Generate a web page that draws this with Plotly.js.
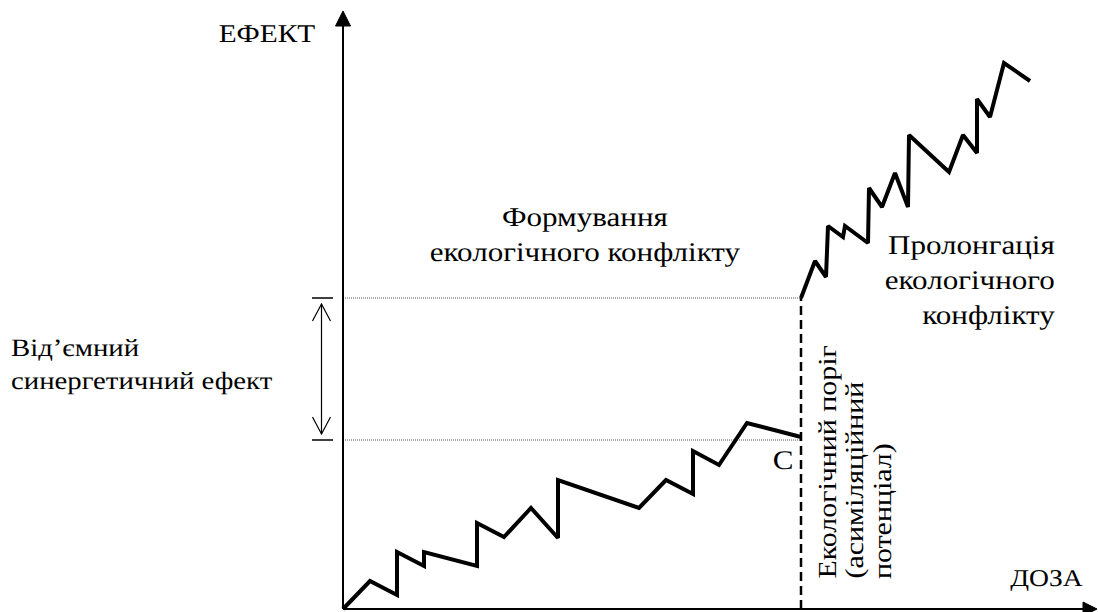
<!DOCTYPE html>
<html>
<head>
<meta charset="utf-8">
<script src="https://cdn.plot.ly/plotly-3.0.1.min.js"></script>
<style>html,body{margin:0;padding:0;background:#fff;}#chart{width:1098px;height:612px;}svg text{text-rendering:geometricPrecision;}</style>
</head>
<body>
<div id="chart"></div>
<script>
// Formation stage of the ecological conflict (dose, effect)
var formDose   = [0, 2.7, 5.4, 5.4, 8.1, 8.1, 13.4, 13.4, 16.1, 18.8, 21.5, 21.5, 29.6, 32.3, 35.0, 35.0, 37.6, 40.4, 45.8];
var formEffect = [0, 2.8, 1.4, 5.7, 4.3, 5.7, 4.3, 8.6, 7.2, 10.1, 7.1, 12.9, 10.1, 12.9, 11.5, 15.8, 14.4, 18.6, 17.2];
// Prolongation stage of the ecological conflict
var prolDose   = [45.8, 47.2, 48.3, 48.5, 50.0, 50.2, 52.5, 52.6, 53.9, 55.2, 56.5, 56.6, 60.6, 62.0, 63.4, 63.4, 64.7, 66.1, 68.7];
var prolEffect = [31.1, 34.8, 33.2, 38.3, 37.2, 38.3, 36.6, 42.1, 40.2, 43.6, 40.2, 47.4, 43.7, 47.4, 45.6, 51.0, 49.2, 54.6, 52.8];
// Ecological threshold and effect levels
var thresholdDose = 45.8;
var lowerLevel = 16.9;
var upperLevel = 31.1;
var axisMaxDose = 74.2;
var axisMaxEffect = 58.5;
// Labels
var thresholdLines = ['Екологічний поріг', '(асиміляційний', 'потенціал)'];

var serif = 'Liberation Serif';
var black = '#000';

var traces = [
  {x: [0, thresholdDose], y: [lowerLevel, lowerLevel], mode: 'lines', line: {color: '#555', width: 1, dash: '1px,1px'}, hoverinfo: 'skip'},
  {x: [0, thresholdDose], y: [upperLevel, upperLevel], mode: 'lines', line: {color: '#555', width: 1, dash: '1px,1px'}, hoverinfo: 'skip'},
  {x: [thresholdDose, thresholdDose], y: [0, upperLevel], mode: 'lines', line: {color: black, width: 2.5, dash: '9px,5px'}, hoverinfo: 'skip'},
  {x: formDose, y: formEffect, mode: 'lines', line: {color: black, width: 4}},
  {x: prolDose, y: prolEffect, mode: 'lines', line: {color: black, width: 4}}
];

var ax = -2.15; // double arrow position (left of the effect axis)
var shapes = [
  {type: 'line', x0: 0, y0: 0, x1: 0, y1: axisMaxEffect, line: {color: black, width: 2}},
  {type: 'line', x0: 0, y0: 0, x1: axisMaxDose, y1: 0, line: {color: black, width: 2}},
  {type: 'path', path: 'M 0 59.8 L -0.75 58.3 L 0.75 58.3 Z', fillcolor: black, line: {color: black, width: 1}},
  {type: 'path', path: 'M 75.4 0 L 74.0 0.7 L 74.0 -0.7 Z', fillcolor: black, line: {color: black, width: 1}},
  {type: 'line', x0: -3.1, x1: -1.0, y0: upperLevel, y1: upperLevel, line: {color: black, width: 1.5}},
  {type: 'line', x0: -3.1, x1: -1.0, y0: lowerLevel, y1: lowerLevel, line: {color: black, width: 1.5}},
  {type: 'line', x0: ax, x1: ax, y0: lowerLevel + 0.6, y1: upperLevel - 0.6, line: {color: black, width: 1.2}},
  {type: 'path', path: 'M ' + (ax - 0.9) + ' ' + (upperLevel - 2.3) + ' L ' + ax + ' ' + (upperLevel - 0.6) + ' L ' + (ax + 0.9) + ' ' + (upperLevel - 2.3), line: {color: black, width: 1.2}},
  {type: 'path', path: 'M ' + (ax - 0.9) + ' ' + (lowerLevel + 2.3) + ' L ' + ax + ' ' + (lowerLevel + 0.6) + ' L ' + (ax + 0.9) + ' ' + (lowerLevel + 2.3), line: {color: black, width: 1.2}}
];

var f = function (s) { return {family: serif, size: s, color: black}; };
var annotations = [
  {x: -7.6, y: 57.6, text: 'ЕФЕКТ', showarrow: false, font: f(25.5), xanchor: 'center', yanchor: 'middle'},
  {x: 70.4, y: 3.0, text: 'ДОЗА', showarrow: false, font: f(24), xanchor: 'center', yanchor: 'middle'},
  {x: 24.2, y: 37.5, text: 'Формування<br>екологічного конфлікту', showarrow: false, font: f(27), align: 'center', xanchor: 'center', yanchor: 'middle'},
  {x: 71.4, y: 32.9, text: 'Пролонгація<br>екологічного<br>конфлікту', showarrow: false, font: f(27), align: 'right', xanchor: 'right', yanchor: 'middle'},
  {x: -33.4, y: 24.45, text: 'Від’ємний<br>синергетичний ефект', showarrow: false, font: f(25), align: 'left', xanchor: 'left', yanchor: 'middle'},
  {x: 44.0, y: 14.9, text: 'C', showarrow: false, font: f(27), xanchor: 'center', yanchor: 'middle'}
];
var rotX = [48.4, 51.1, 53.9];
thresholdLines.forEach(function (t, i) {
  annotations.push({x: rotX[i], y: 2.8, text: t, showarrow: false, font: f(26), align: 'left', textangle: -90, xanchor: 'center', yanchor: 'bottom'});
});

var layout = {
  width: 1098, height: 612,
  margin: {l: 0, r: 0, t: 0, b: 0, pad: 0},
  paper_bgcolor: '#fff', plot_bgcolor: '#fff',
  showlegend: false,
  xaxis: {range: [-34.3, 75.5], visible: false, fixedrange: true},
  yaxis: {range: [-0.3, 60.9], visible: false, fixedrange: true},
  shapes: shapes,
  annotations: annotations
};

// The source lettering is wider than Times; widen glyphs along the reading direction.
function widenText(gd, s) {
  var texts = gd.querySelectorAll('g.annotation text.annotation-text');
  texts.forEach(function (t, i) {
    var a = annotations[i] || {};
    var b = t.getBBox();
    var cx;
    if (a.align === 'left' || a.xanchor === 'left') cx = b.x;
    else if (a.align === 'right' || a.xanchor === 'right') cx = b.x + b.width;
    else cx = b.x + b.width / 2;
    var prev = t.getAttribute('transform') || '';
    t.setAttribute('transform', 'translate(' + cx + ',0) scale(' + s + ',1) translate(' + (-cx) + ',0) ' + prev);
  });
}

Plotly.newPlot('chart', traces, layout, {displayModeBar: false, staticPlot: true}).then(function (gd) {
  widenText(gd, 1.15);
});
</script>
</body>
</html>
